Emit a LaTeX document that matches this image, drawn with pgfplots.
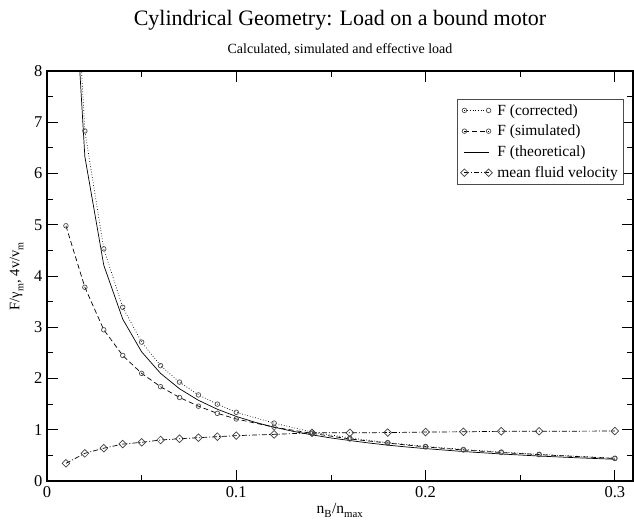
\documentclass[border=0pt]{standalone}
\usepackage{pgfplots}
\pgfplotsset{compat=1.18}
\usepackage{fontspec}
\setmainfont{Liberation Serif}

\begin{document}
\begin{tikzpicture}
\useasboundingbox (-47pt,-41pt) rectangle (587pt,481pt);
\begin{axis}[
  scale only axis,
  width=586pt, height=410pt,
  xmin=0, xmax=0.3096,
  ymin=0, ymax=8,
  xtick={0,0.1,0.2,0.3},
  xticklabels={0,0.1,0.2,0.3},
  minor xtick={0.05,0.15,0.25},
  ytick={0,1,2,3,4,5,6,7,8},
  minor ytick={0.5,1.5,2.5,3.5,4.5,5.5,6.5,7.5},
  tick align=inside,
  major tick length=11pt,
  minor tick length=6pt,
  every tick/.style={black, line width=0.8pt},
  axis line style={line width=1.2pt},
  /pgf/number format/assume math mode=true,
  tick label style={font=\fontsize{16.5}{19}\selectfont},
  xticklabel style={yshift=-2pt},
  yticklabel style={xshift=-1pt},
  xlabel={n\raisebox{-2pt}{\textsubscript{B}}/n\raisebox{-2pt}{\textsubscript{max}}},
  ylabel={F/γ\raisebox{-2pt}{\textsubscript{m}}, 4v/v\raisebox{-2pt}{\textsubscript{m}}},
  xlabel style={font=\fontsize{15.5}{18}\selectfont, at={(0.5,0)}, anchor=north, yshift=-19pt},
  ylabel style={font=\fontsize{14.5}{17}\selectfont, at={(0,0.5)}, anchor=south, yshift=20pt},
  title={\fontsize{22}{26}\selectfont Cylindrical Geometry: Load on a bound motor\\[12pt]\fontsize{14}{16}\selectfont Calculated, simulated and effective load},
  title style={align=center, at={(0.5,1)}, anchor=south, yshift=6pt},
  legend style={at={(0.70,0.932)}, anchor=north west, draw=black!70, line width=0.8pt,
    font=\fontsize{15.5}{18}\selectfont, row sep=4.5pt, inner sep=3pt,
    legend cell align=left,
    /tikz/every odd column/.append style={column sep=3pt}},
  legend image code/.code={\draw[#1] plot coordinates {(0cm,0cm) (0.85cm,0cm)};},
  every axis plot/.append style={line width=0.7pt},
]
% F (corrected)
\addplot[black, dotted, mark=o, mark size=2.3pt, mark options={solid, draw=black!70}] coordinates {
(0.01,13.6) (0.02,6.83) (0.03,4.53) (0.04,3.39) (0.05,2.71) (0.06,2.25)
(0.07,1.93) (0.08,1.68) (0.09,1.50) (0.10,1.34) (0.12,1.13) (0.14,0.955)
(0.16,0.84) (0.18,0.75) (0.20,0.675) (0.22,0.615) (0.24,0.565) (0.26,0.52)
(0.30,0.445)};
\addlegendentry{F (corrected)}
% F (simulated)
\addplot[black, dash pattern=on 5pt off 3pt, mark=o, mark size=2.3pt, mark options={solid, draw=black!70}] coordinates {
(0.01,4.98) (0.02,3.78) (0.03,2.95) (0.04,2.45) (0.05,2.10) (0.06,1.84)
(0.07,1.63) (0.08,1.46) (0.09,1.32) (0.10,1.21) (0.12,1.05) (0.14,0.93)
(0.16,0.82) (0.18,0.74) (0.20,0.665) (0.22,0.605) (0.24,0.555) (0.26,0.515)
(0.30,0.44)};
\addlegendentry{F (simulated)}
% F (theoretical)
\addplot[black, solid] coordinates {
(0.01,12.6) (0.02,6.33) (0.03,4.21) (0.04,3.16) (0.05,2.52) (0.06,2.10)
(0.07,1.80) (0.08,1.575) (0.09,1.40) (0.10,1.26) (0.11,1.145) (0.12,1.05)
(0.13,0.969) (0.14,0.90) (0.15,0.84) (0.16,0.79) (0.17,0.742) (0.18,0.70)
(0.19,0.664) (0.20,0.632) (0.22,0.575) (0.24,0.527) (0.26,0.487) (0.28,0.453)
(0.30,0.424)};
\addlegendentry{F (theoretical)}
% mean fluid velocity
\addplot[black, dash pattern=on 5pt off 2pt on 1pt off 2pt, mark=square, mark size=2.7pt, mark options={solid, rotate=45, draw=black!75}] coordinates {
(0.01,0.345) (0.02,0.54) (0.03,0.64) (0.04,0.72) (0.05,0.755) (0.06,0.80)
(0.07,0.825) (0.08,0.845) (0.09,0.865) (0.10,0.885) (0.12,0.91) (0.14,0.94)
(0.16,0.94) (0.18,0.945) (0.20,0.955) (0.22,0.96) (0.24,0.97) (0.26,0.97)
(0.30,0.975)};
\addlegendentry{mean fluid velocity}
\end{axis}
\end{tikzpicture}
\end{document}
